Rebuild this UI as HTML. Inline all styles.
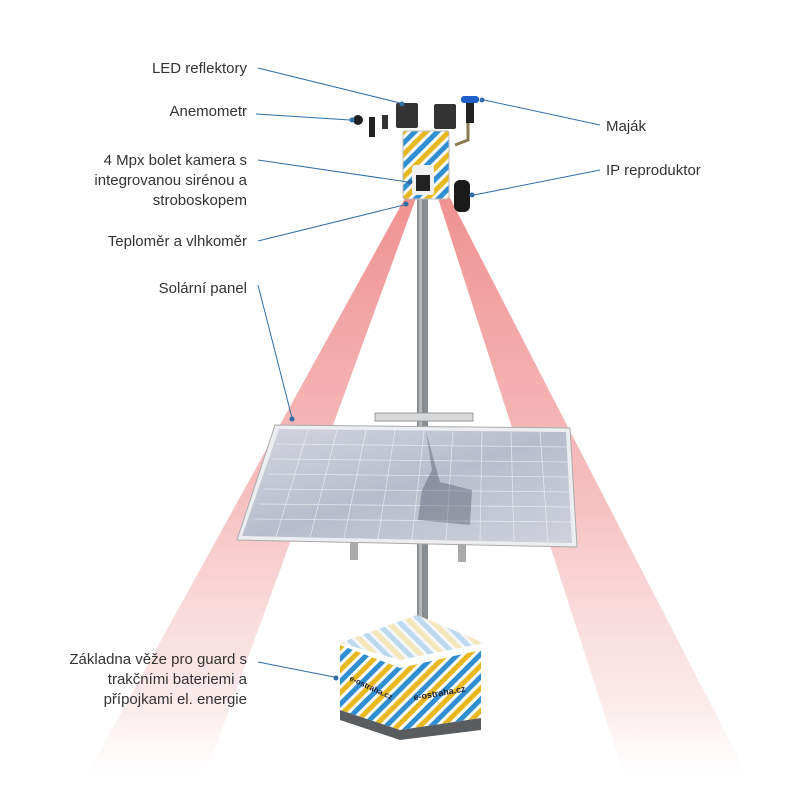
<!DOCTYPE html>
<html><head><meta charset="utf-8"><style>
body{margin:0;background:#fff}
svg text{font-family:"Liberation Sans",sans-serif;font-size:15px;fill:#333}
</style></head><body>
<svg width="800" height="800" viewBox="0 0 800 800" xmlns="http://www.w3.org/2000/svg">
<defs>
<linearGradient id="bm" x1="0" y1="0" x2="0" y2="1">
<stop offset="0" stop-color="#ef8c8c" stop-opacity="0.95"/>
<stop offset="0.5" stop-color="#f3aaaa" stop-opacity="0.75"/>
<stop offset="0.85" stop-color="#f8d4d4" stop-opacity="0.45"/>
<stop offset="1" stop-color="#ffffff" stop-opacity="0"/>
</linearGradient>
<pattern id="st" width="16" height="16" patternUnits="userSpaceOnUse" patternTransform="rotate(45)">
<rect width="16" height="16" fill="#fff"/><rect width="5" height="16" fill="#2f8fd0"/><rect x="8" width="5" height="16" fill="#e8b820"/>
</pattern>
<pattern id="st2" width="16" height="16" patternUnits="userSpaceOnUse" patternTransform="rotate(-45)">
<rect width="16" height="16" fill="#f4f6f8"/><rect width="5" height="16" fill="#bcd9f0"/><rect x="8" width="5" height="16" fill="#f5e5b8"/>
</pattern>
<linearGradient id="pv" x1="0" y1="0" x2="1" y2="1">
<stop offset="0" stop-color="#d3d6e0"/><stop offset="0.5" stop-color="#b9bccc"/><stop offset="1" stop-color="#cfd2dd"/>
</linearGradient>
</defs>
<polygon points="405,198 416,198 196,800 73,800" fill="url(#bm)"/>
<polygon points="438,198 450,198 760,800 632,800" fill="url(#bm)"/>
<rect x="417" y="195" width="11" height="440" fill="#8a8d90"/>
<rect x="419" y="195" width="3" height="440" fill="#b5b8ba"/>
<rect x="375" y="413" width="98" height="8" fill="#d6d8da" stroke="#999" stroke-width="1"/>
<polygon points="275,425 570,428 577,547 237,540" fill="#eceef2" stroke="#aaa"/>
<polygon points="279,429 566,432 572,543 242,536" fill="url(#pv)"/>
<g stroke="#eceef4" stroke-width="0.8" opacity="0.8">
<line x1="308" y1="430" x2="276" y2="537"/><line x1="337" y1="430" x2="310" y2="538"/><line x1="366" y1="430" x2="344" y2="538"/><line x1="395" y1="430" x2="378" y2="539"/><line x1="424" y1="431" x2="412" y2="539"/><line x1="453" y1="431" x2="446" y2="540"/><line x1="482" y1="431" x2="480" y2="541"/><line x1="511" y1="432" x2="514" y2="541"/><line x1="540" y1="432" x2="548" y2="542"/>
<line x1="276" y1="444" x2="567" y2="447"/><line x1="272" y1="459" x2="568" y2="462"/><line x1="268" y1="474" x2="569" y2="477"/><line x1="264" y1="489" x2="569" y2="492"/><line x1="259" y1="504" x2="570" y2="507"/><line x1="254" y1="519" x2="571" y2="522"/>
</g>
<path d="M426,432 L432,470 L422,490 L418,520 L470,525 L472,490 L440,482 Z" fill="#3d4050" opacity="0.35"/>
<rect x="350" y="542" width="8" height="18" fill="#aaa"/><rect x="458" y="544" width="8" height="18" fill="#aaa"/>
<rect x="396" y="103" width="22" height="25" rx="2" fill="#333"/>
<rect x="434" y="104" width="22" height="25" rx="2" fill="#333"/>
<rect x="461" y="96" width="18" height="7" rx="3" fill="#1e5fc8"/>
<rect x="466" y="103" width="8" height="20" fill="#222"/>
<path d="M468,123 L468,140 L455,145" stroke="#8a7a50" stroke-width="3" fill="none"/>
<circle cx="358" cy="120" r="5" fill="#222"/><rect x="369" y="117" width="6" height="20" fill="#222"/><rect x="382" y="115" width="6" height="14" fill="#333"/>
<rect x="403" y="131" width="46" height="68" rx="2" fill="url(#st)" stroke="#bbb"/>
<rect x="412" y="165" width="22" height="30" rx="3" fill="#f2f2f2"/>
<rect x="416" y="175" width="14" height="16" fill="#222"/>
<rect x="454" y="180" width="16" height="32" rx="6" fill="#1a1a1a"/>
<polygon points="340,643 417,615 484,643 400,660" fill="url(#st2)"/>
<polygon points="340,645 400,668 400,730 340,710" fill="url(#st)"/>
<polygon points="400,668 481,650 481,718 400,730" fill="url(#st)"/>
<polygon points="340,710 400,730 481,718 481,730 400,740 340,720" fill="#5a5d60"/>
<text x="440" y="696" style="font-size:9px;font-weight:bold;fill:#223" transform="rotate(-10 440 696)" text-anchor="middle">e-ostraha.cz</text>
<text x="370" y="690" style="font-size:8px;font-weight:bold;fill:#223" transform="rotate(25 370 690)" text-anchor="middle">e-ostraha.cz</text>
<g text-anchor="end">
<text x="247" y="73">LED reflektory</text>
<text x="247" y="116">Anemometr</text>
<text x="247" y="165">4 Mpx bolet kamera s</text>
<text x="247" y="185">integrovanou sirénou a</text>
<text x="247" y="205">stroboskopem</text>
<text x="247" y="246">Teploměr a vlhkoměr</text>
<text x="247" y="293">Solární panel</text>
<text x="247" y="664">Základna věže pro guard s</text>
<text x="247" y="684">trakčními bateriemi a</text>
<text x="247" y="704">přípojkami el. energie</text>
</g>
<text x="606" y="131">Maják</text>
<text x="606" y="175">IP reproduktor</text>
<g stroke="#2e6fa8" stroke-width="1" fill="#2e6fa8">
<line x1="258" y1="68" x2="400" y2="103"/><circle cx="402" cy="104" r="2"/>
<line x1="256" y1="114" x2="350" y2="120"/><circle cx="352" cy="120" r="2"/>
<line x1="258" y1="160" x2="408" y2="182"/><circle cx="410" cy="182" r="2"/>
<line x1="258" y1="241" x2="404" y2="205"/><circle cx="406" cy="204" r="2"/>
<line x1="258" y1="285" x2="292" y2="418"/><circle cx="292" cy="419" r="2"/>
<line x1="258" y1="662" x2="334" y2="677"/><circle cx="336" cy="678" r="2"/>
<line x1="600" y1="125" x2="484" y2="100"/><circle cx="482" cy="100" r="2"/>
<line x1="600" y1="170" x2="474" y2="195"/><circle cx="472" cy="195" r="2"/>
</g>
</svg>
</body></html>
